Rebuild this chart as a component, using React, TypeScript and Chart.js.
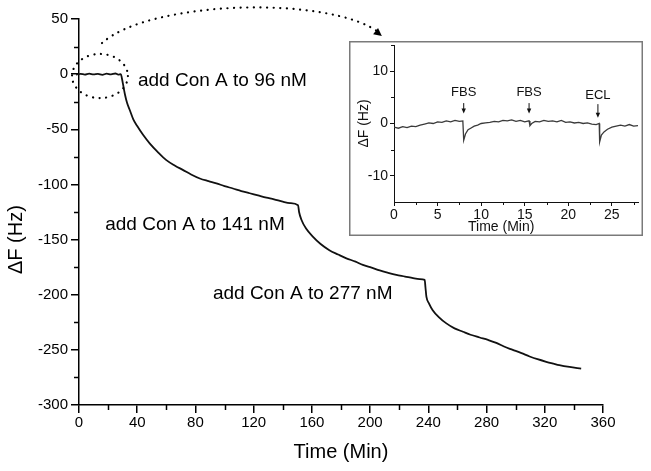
import React, { useEffect, useRef } from 'react';
import { Chart, registerables } from 'chart.js';

Chart.register(...registerables);

const FONT = '"Liberation Sans", Arial, Helvetica, sans-serif';

// ---------- main chart data ----------
const mainTime = [
  -5, -2, 1, 4, 7, 10, 13, 16, 19, 22, 25, 27, 28.8,
  29.5, 30.5, 31.5, 33, 35, 37.3, 40, 44, 48.7, 54, 60, 66, 71.6, 77, 83, 89, 94.4, 100, 105.8, 111.5, 117.3, 123, 128.8, 134, 140, 145, 150.5,
  151.2, 152.8, 156, 160.8, 166, 172, 178, 183.7, 190, 195, 201, 206.6, 212, 218, 224, 229.5, 234, 237.5,
  238, 238.7, 240.5, 243, 247, 252.4, 258, 263.8, 269, 275.3, 281, 286.7, 292, 298, 304, 309.6, 315, 321, 326, 330, 337, 345,
];
const mainDeltaF = [
  0, -0.5, 0.3, -0.4, 0.5, -0.3, 0.2, -0.6, 0.4, -0.2, 0.6, -0.5, 0,
  -4, -11, -18, -26, -33, -41, -47, -55, -63, -70.5, -78, -83, -87, -91, -94.6, -97, -99, -101.5, -103.7, -106, -108, -110, -112, -113.5, -115.7, -117, -118.8,
  -125, -132, -140, -147.5, -154, -159.6, -163.5, -167, -170, -173, -175.5, -178, -180, -182, -183.5, -185, -185.8, -186.5,
  -193, -202, -208, -214, -220, -226, -230.5, -233.6, -236.3, -238.8, -241, -243.6, -247, -250, -253, -256, -258.5, -260.8, -262.5, -263.8, -265.5, -267,
];
const mainXTicks = [0, 40, 80, 120, 160, 200, 240, 280, 320, 360];
const mainXMinor = [20, 60, 100, 140, 180, 220, 260, 300, 340];
const mainYTicks = [50, 0, -50, -100, -150, -200, -250, -300];
const mainYMinor = [25, -25, -75, -125, -175, -225, -275];

const mainNotes = ['add Con A to 96 nM', 'add Con A to 141 nM', 'add Con A to 277 nM'];
const mainNoteTime = [40.5, 18, 92];
const mainNoteDeltaF = [-10.8, -141.4, -204];

// dotted circle (center / radii in data units) and dotted arrow control points
const circleCenter = [14.4, -1.7];
const circleRadius = [19.2, 20];
const arrowTime = [15.8, 48.8, 172.4, 206.7];
const arrowDeltaF = [28.2, 67.2, 71.7, 37.3];

// ---------- inset data ----------
const insetTime = [
  0, 0.5, 1, 1.5, 2, 2.5, 3, 3.5, 4, 4.5, 5, 5.5, 6, 6.5, 7, 7.5,
  7.9, 8.0, 8.2, 8.5, 8.8, 9.2, 9.6,
  10, 10.5, 11, 11.5, 12, 12.5, 13, 13.5, 14, 14.5, 15, 15.5,
  15.6, 15.8,
  16.2, 16.7, 17.2, 17.7, 18.2, 18.7, 19.2, 19.7, 20.2, 20.7, 21.2, 21.7, 22.2, 22.7,
  23.2, 23.55, 23.6, 23.8, 24.1, 24.5,
  25, 25.5, 26, 26.5, 27, 27.5, 28,
];
const insetDeltaF = [
  -0.7, -0.9, -0.6, -0.8, -0.5, -0.6, -0.3, -0.1, 0.1, 0.0, 0.3, 0.2, 0.5, 0.3, 0.6, 0.4,
  0.5, -3.2, -2.0, -1.2, -0.9, -0.5, -0.3,
  0.0, 0.1, 0.2, 0.4, 0.3, 0.6, 0.5, 0.7, 0.4, 0.6, 0.3, 0.5,
  -0.4, 0.0,
  0.4, 0.3, 0.6, 0.4, 0.5, 0.3, 0.6, 0.2, 0.3, 0.1, 0.2, 0.0, 0.1, -0.1,
  -0.2, 0.0, -3.5, -2.2, -1.6, -1.1,
  -0.7, -0.5, -0.3, -0.5, -0.2, -0.5, -0.4,
];
const insetXTicks = [0, 5, 10, 15, 20, 25];
const insetXMinor = [2.5, 7.5, 12.5, 17.5, 22.5, 27.5];
const insetYTicks = [-10, 0, 10];
const insetYMinor = [-5, 5, 15];

const insetNotes = ['FBS', 'FBS', 'ECL'];
const insetNoteTime = [8.0, 15.5, 23.4];
const insetNoteDeltaF = [5.2, 5.2, 4.6];
const insetArrowTop = [3.9, 3.9, 3.7];
const insetArrowTip = [1.9, 1.9, 1.1];

function arrowHead(ctx: CanvasRenderingContext2D, x0: number, y0: number, x1: number, y1: number, len: number, half: number) {
  const a = Math.atan2(y1 - y0, x1 - x0);
  ctx.beginPath();
  ctx.moveTo(x1, y1);
  ctx.lineTo(x1 - len * Math.cos(a) + half * Math.sin(a), y1 - len * Math.sin(a) - half * Math.cos(a));
  ctx.lineTo(x1 - len * Math.cos(a) - half * Math.sin(a), y1 - len * Math.sin(a) + half * Math.cos(a));
  ctx.closePath();
  ctx.fill();
}

const mainDecor = {
  id: 'mainDecor',
  afterDraw(chart: any) {
    const { ctx } = chart;
    const x = chart.scales.x;
    const y = chart.scales.y;
    const area = chart.chartArea;
    ctx.save();
    ctx.strokeStyle = '#000';
    ctx.fillStyle = '#000';
    ctx.lineWidth = 1.5;
    // minor ticks
    mainXMinor.forEach((v) => {
      const px = Math.round(x.getPixelForValue(v)) + 0.5;
      ctx.beginPath();
      ctx.moveTo(px, area.bottom);
      ctx.lineTo(px, area.bottom + 5);
      ctx.stroke();
    });
    mainYMinor.forEach((v) => {
      const py = Math.round(y.getPixelForValue(v)) + 0.5;
      ctx.beginPath();
      ctx.moveTo(area.left, py);
      ctx.lineTo(area.left - 5, py);
      ctx.stroke();
    });
    // annotations
    ctx.font = `19px ${FONT}`;
    ctx.textAlign = 'left';
    ctx.textBaseline = 'alphabetic';
    mainNotes.forEach((t, i) => {
      ctx.fillText(t, x.getPixelForValue(mainNoteTime[i]), y.getPixelForValue(mainNoteDeltaF[i]));
    });
    // axis titles
    ctx.font = `20px ${FONT}`;
    ctx.textAlign = 'center';
    ctx.textBaseline = 'middle';
    ctx.fillText('Time (Min)', (area.left + area.right) / 2, 452);
    ctx.save();
    ctx.translate(16, y.getPixelForValue(-150));
    ctx.rotate(-Math.PI / 2);
    ctx.fillText('\u0394F (Hz)', 0, 0);
    ctx.restore();
    // dotted circle
    ctx.setLineDash([0.1, 6.5]);
    ctx.lineCap = 'round';
    ctx.lineWidth = 2.2;
    const cx = x.getPixelForValue(circleCenter[0]);
    const cy = y.getPixelForValue(circleCenter[1]);
    const rx = x.getPixelForValue(circleCenter[0] + circleRadius[0]) - cx;
    const ry = y.getPixelForValue(circleCenter[1] - circleRadius[1]) - cy;
    ctx.beginPath();
    ctx.ellipse(cx, cy, rx, ry, 0, 0, Math.PI * 2);
    ctx.stroke();
    // dotted arrow
    const ax = arrowTime.map((t) => x.getPixelForValue(t));
    const ay = arrowDeltaF.map((v) => y.getPixelForValue(v));
    ctx.beginPath();
    ctx.moveTo(ax[0], ay[0]);
    ctx.bezierCurveTo(ax[1], ay[1], ax[2], ay[2], ax[3], ay[3]);
    ctx.stroke();
    ctx.setLineDash([]);
    arrowHead(ctx, ax[2], ay[2], ax[3] + 2, ay[3] + 3, 8, 4);
    ctx.restore();
  },
};

const insetDecor = {
  id: 'insetDecor',
  beforeDraw(chart: any) {
    const { ctx, width, height } = chart;
    ctx.save();
    ctx.fillStyle = '#fff';
    ctx.fillRect(0, 0, width, height);
    ctx.strokeStyle = '#7a7a7a';
    ctx.lineWidth = 1.5;
    ctx.strokeRect(0.75, 0.75, width - 1.5, height - 1.5);
    ctx.restore();
  },
  afterDraw(chart: any) {
    const { ctx } = chart;
    const x = chart.scales.x;
    const y = chart.scales.y;
    const area = chart.chartArea;
    ctx.save();
    ctx.strokeStyle = '#111';
    ctx.fillStyle = '#111';
    ctx.lineWidth = 1;
    insetXMinor.forEach((v) => {
      const px = Math.round(x.getPixelForValue(v)) + 0.5;
      ctx.beginPath();
      ctx.moveTo(px, area.bottom);
      ctx.lineTo(px, area.bottom + 3);
      ctx.stroke();
    });
    insetYMinor.forEach((v) => {
      const py = Math.round(y.getPixelForValue(v)) + 0.5;
      ctx.beginPath();
      ctx.moveTo(area.left, py);
      ctx.lineTo(area.left - 3, py);
      ctx.stroke();
    });
    // notes + arrows
    ctx.font = `13px ${FONT}`;
    ctx.textAlign = 'center';
    ctx.textBaseline = 'alphabetic';
    insetNotes.forEach((t, i) => {
      const px = x.getPixelForValue(insetNoteTime[i]);
      ctx.fillText(t, px, y.getPixelForValue(insetNoteDeltaF[i]));
      const top = y.getPixelForValue(insetArrowTop[i]);
      const tip = y.getPixelForValue(insetArrowTip[i]);
      ctx.beginPath();
      ctx.moveTo(px, top);
      ctx.lineTo(px, tip - 3);
      ctx.stroke();
      arrowHead(ctx, px, top, px, tip, 5, 2.2);
    });
    // titles
    ctx.font = `14px ${FONT}`;
    ctx.textBaseline = 'middle';
    ctx.fillText('Time (Min)', x.getPixelForValue(12.3), 186);
    ctx.save();
    ctx.translate(15, y.getPixelForValue(0));
    ctx.rotate(-Math.PI / 2);
    ctx.fillText('\u0394F (Hz)', 0, 0);
    ctx.restore();
    ctx.restore();
  },
};

export default function App() {
  const mainRef = useRef<HTMLCanvasElement>(null);
  const insetRef = useRef<HTMLCanvasElement>(null);

  useEffect(() => {
    const main = new Chart(mainRef.current as HTMLCanvasElement, {
      type: 'line',
      data: {
        datasets: [
          {
            data: mainTime.map((t, i) => ({ x: t, y: mainDeltaF[i] })),
            borderColor: '#111',
            borderWidth: 1.8,
            pointRadius: 0,
            cubicInterpolationMode: 'monotone',
            clip: false as any,
          },
        ],
      },
      options: {
        animation: false,
        responsive: false,
        devicePixelRatio: 1,
        layout: { padding: { left: 0, right: 48, top: 19, bottom: 0 } },
        plugins: { legend: { display: false }, tooltip: { enabled: false } },
        scales: {
          x: {
            type: 'linear',
            min: 0,
            max: 360,
            afterBuildTicks: (s: any) => {
              s.ticks = mainXTicks.map((v) => ({ value: v }));
            },
            ticks: {
              font: { family: FONT, size: 15 },
              color: '#000',
              padding: 1,
              maxRotation: 0,
              autoSkip: false,
              callback: (v: any) => String(v),
            },
            grid: {
              drawOnChartArea: false,
              drawTicks: true,
              tickLength: 8,
              tickWidth: 1.5,
              tickColor: '#000',
              color: '#000',
              lineWidth: 1.5,
            },
            border: { display: true, color: '#000', width: 1.5 },
            afterFit: (s: any) => {
              s.height = 66;
              s.paddingLeft = 0;
              s.paddingRight = 0;
            },
          },
          y: {
            type: 'linear',
            min: -300,
            max: 50,
            afterBuildTicks: (s: any) => {
              s.ticks = mainYTicks.map((v) => ({ value: v }));
            },
            ticks: {
              font: { family: FONT, size: 15 },
              color: '#000',
              padding: 3,
              autoSkip: false,
              callback: (v: any) => String(v),
            },
            grid: {
              drawOnChartArea: false,
              drawTicks: true,
              tickLength: 8,
              tickWidth: 1.5,
              tickColor: '#000',
              color: '#000',
              lineWidth: 1.5,
            },
            border: { display: true, color: '#000', width: 1.5 },
            afterFit: (s: any) => {
              s.width = 79;
              s.paddingTop = 0;
              s.paddingBottom = 0;
            },
          },
        },
      } as any,
      plugins: [mainDecor],
    });

    const inset = new Chart(insetRef.current as HTMLCanvasElement, {
      type: 'line',
      data: {
        datasets: [
          {
            data: insetTime.map((t, i) => ({ x: t, y: insetDeltaF[i] })),
            borderColor: '#3a3a3a',
            borderWidth: 1.3,
            pointRadius: 0,
            tension: 0,
          },
        ],
      },
      options: {
        animation: false,
        responsive: false,
        devicePixelRatio: 1,
        layout: { padding: { left: 0, right: 5, top: 4, bottom: 0 } },
        plugins: { legend: { display: false }, tooltip: { enabled: false } },
        scales: {
          x: {
            type: 'linear',
            min: 0,
            max: 28,
            afterBuildTicks: (s: any) => {
              s.ticks = insetXTicks.map((v) => ({ value: v }));
            },
            ticks: {
              font: { family: FONT, size: 14 },
              color: '#111',
              padding: 1,
              maxRotation: 0,
              autoSkip: false,
              callback: (v: any) => String(v),
            },
            grid: {
              drawOnChartArea: false,
              drawTicks: true,
              tickLength: 4,
              tickWidth: 1,
              tickColor: '#111',
              color: '#111',
              lineWidth: 1,
            },
            border: { display: true, color: '#111', width: 1 },
            afterFit: (s: any) => {
              s.height = 34;
              s.paddingLeft = 0;
              s.paddingRight = 0;
            },
          },
          y: {
            type: 'linear',
            min: -15,
            max: 15,
            afterBuildTicks: (s: any) => {
              s.ticks = insetYTicks.map((v) => ({ value: v }));
            },
            ticks: {
              font: { family: FONT, size: 14 },
              color: '#111',
              padding: 2,
              autoSkip: false,
              callback: (v: any) => String(v),
            },
            grid: {
              drawOnChartArea: false,
              drawTicks: true,
              tickLength: 4,
              tickWidth: 1,
              tickColor: '#111',
              color: '#111',
              lineWidth: 1,
            },
            border: { display: true, color: '#111', width: 1 },
            afterFit: (s: any) => {
              s.width = 45;
              s.paddingTop = 0;
              s.paddingBottom = 0;
            },
          },
        },
      } as any,
      plugins: [insetDecor],
    });

    return () => {
      main.destroy();
      inset.destroy();
    };
  }, []);

  return (
    <div style={{ position: 'absolute', left: 0, top: 0, width: 651, height: 471, background: '#fff' }}>
      <canvas
        ref={mainRef}
        width={651}
        height={471}
        style={{ position: 'absolute', left: 0, top: 0, width: 651, height: 471 }}
      />
      <canvas
        ref={insetRef}
        width={294}
        height={195}
        style={{ position: 'absolute', left: 349, top: 41, width: 294, height: 195 }}
      />
    </div>
  );
}
